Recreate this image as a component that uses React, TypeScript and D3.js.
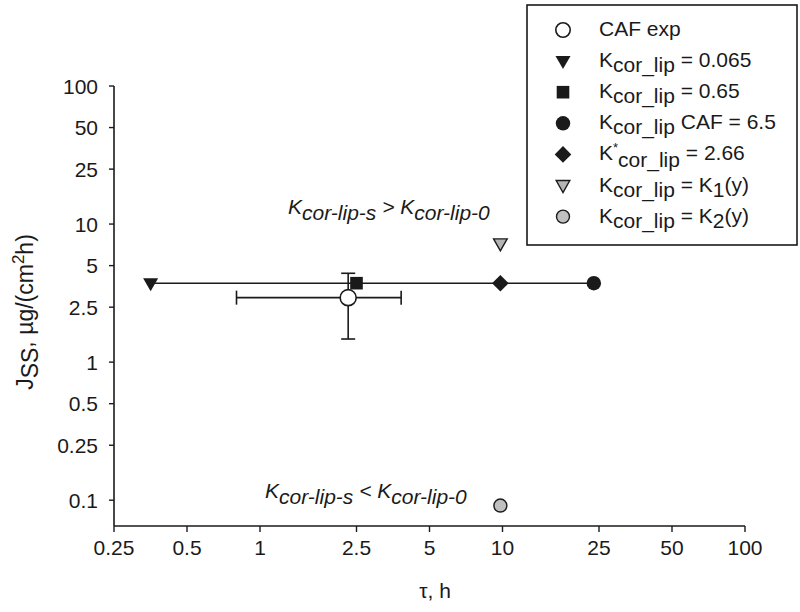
import React from "react";
import * as d3 from "d3";

const xTicks = [0.25, 0.5, 1, 2.5, 5, 10, 25, 50, 100];
const yTicks = [0.1, 0.25, 0.5, 1, 2.5, 5, 10, 25, 50, 100];

// series order: CAF exp, K=0.065, K=0.65, K CAF=6.5, K*=2.66, K1(y), K2(y)
const seriesKeys = ["exp", "k0065", "k065", "kcaf", "kstar", "k1", "k2"];
const seriesTau = [2.31, 0.354, 2.5, 23.8, 9.8, 9.8, 9.8];
const seriesJ = [2.93, 3.73, 3.73, 3.73, 3.73, 7.18, 0.0914];
const expTauRange = [0.8, 3.82];
const expJRange = [1.47, 4.4];
const lineKeys = ["k0065", "k065", "kstar", "kcaf"];

const FONT = "'Liberation Sans', Arial, sans-serif";
const INK = "#1a1a1a";

function marker(key: string, cx: number, cy: number, scale = 1) {
  const s = scale;
  switch (key) {
    case "exp":
      return <circle cx={cx} cy={cy} r={8 * s} fill="#fff" stroke={INK} strokeWidth={1.6} />;
    case "k0065":
      return (
        <path
          d={`M${cx - 7.5 * s},${cy - 5 * s}L${cx + 7.5 * s},${cy - 5 * s}L${cx},${cy + 8 * s}Z`}
          fill={INK}
        />
      );
    case "k065":
      return <rect x={cx - 6.3 * s} y={cy - 6.3 * s} width={12.6 * s} height={12.6 * s} fill={INK} />;
    case "kcaf":
      return <circle cx={cx} cy={cy} r={7.2 * s} fill={INK} />;
    case "kstar":
      return (
        <path
          d={`M${cx},${cy - 8.3 * s}L${cx + 8.3 * s},${cy}L${cx},${cy + 8.3 * s}L${cx - 8.3 * s},${cy}Z`}
          fill={INK}
        />
      );
    case "k1":
      return (
        <path
          d={`M${cx - 6.8 * s},${cy - 5 * s}L${cx + 6.8 * s},${cy - 5 * s}L${cx},${cy + 7 * s}Z`}
          fill="#b4b4b4"
          stroke={INK}
          strokeWidth={1.4}
        />
      );
    case "k2":
      return <circle cx={cx} cy={cy} r={6.5 * s} fill="#c0c0c0" stroke={INK} strokeWidth={1.4} />;
  }
  return null;
}

function legendLabel(key: string) {
  const d = 5;
  switch (key) {
    case "exp":
      return <tspan>CAF exp</tspan>;
    case "k0065":
      return (
        <>
          <tspan>K</tspan>
          <tspan dy={d}>cor_lip</tspan>
          <tspan dy={-d}> = 0.065</tspan>
        </>
      );
    case "k065":
      return (
        <>
          <tspan>K</tspan>
          <tspan dy={d}>cor_lip</tspan>
          <tspan dy={-d}> = 0.65</tspan>
        </>
      );
    case "kcaf":
      return (
        <>
          <tspan>K</tspan>
          <tspan dy={d}>cor_lip</tspan>
          <tspan dy={-d}> CAF = 6.5</tspan>
        </>
      );
    case "kstar":
      return (
        <>
          <tspan>K</tspan>
          <tspan dy={-8} fontSize={13}>*</tspan>
          <tspan dy={15}>cor_lip</tspan>
          <tspan dy={-7}>{"  = 2.66"}</tspan>
        </>
      );
    case "k1":
      return (
        <>
          <tspan>K</tspan>
          <tspan dy={d}>cor_lip</tspan>
          <tspan dy={-d}> = K</tspan>
          <tspan dy={d}>1</tspan>
          <tspan dy={-d}>(y)</tspan>
        </>
      );
    case "k2":
      return (
        <>
          <tspan>K</tspan>
          <tspan dy={d}>cor_lip</tspan>
          <tspan dy={-d}> = K</tspan>
          <tspan dy={d}>2</tspan>
          <tspan dy={-d}>(y)</tspan>
        </>
      );
  }
  return null;
}

export default function App() {
  const W = 800;
  const H = 612;
  const x = d3.scaleLog().domain([0.25, 100]).range([114, 745]);
  const y = d3.scaleLog().domain([0.065, 100]).range([526, 86]);
  const x0 = x.range()[0];
  const y0 = y.range()[0];

  const pts = seriesKeys.map((k, i) => ({ key: k, tau: seriesTau[i], j: seriesJ[i] }));
  const linePts = lineKeys
    .map((k) => pts.find((p) => p.key === k)!)
    .sort((a, b) => a.tau - b.tau);
  const line = d3
    .line<{ tau: number; j: number }>()
    .x((d) => x(d.tau))
    .y((d) => y(d.j));
  const exp = pts[0];
  const ex = x(exp.tau);
  const ey = y(exp.j);
  const cap = 7;

  const legendX = 527;
  const legendY = 5;
  const legendW = 270;
  const legendH = 240;

  return (
    <svg
      width={W}
      height={H}
      style={{ position: "absolute", left: 0, top: 0, background: "#fff" }}
      fontFamily={FONT}
    >
      <rect x={0} y={0} width={W} height={H} fill="#fff" />
      {/* axes */}
      <line x1={x0} x2={x0} y1={y(100)} y2={y0} stroke={INK} strokeWidth={1.6} />
      <line x1={x0} x2={x(100)} y1={y0} y2={y0} stroke={INK} strokeWidth={1.6} />
      {yTicks.map((t) => (
        <g key={"y" + t}>
          <line x1={x0 - 5} x2={x0} y1={y(t)} y2={y(t)} stroke={INK} strokeWidth={1.4} />
          <text x={x0 - 16} y={y(t)} dy="0.36em" textAnchor="end" fontSize={21} fill={INK}>
            {t}
          </text>
        </g>
      ))}
      {xTicks.map((t) => (
        <g key={"x" + t}>
          <line x1={x(t)} x2={x(t)} y1={y0} y2={y0 + 6} stroke={INK} strokeWidth={1.4} />
          <text x={x(t)} y={y0 + 29} textAnchor="middle" fontSize={21} fill={INK}>
            {t}
          </text>
        </g>
      ))}
      <text x={435} y={598} textAnchor="middle" fontSize={21} fill={INK}>
        τ, h
      </text>
      <text transform={`translate(33,312) rotate(-90)`} textAnchor="middle" fontSize={23} fill={INK}>
        <tspan>J</tspan>
        <tspan dy={5}>SS</tspan>
        <tspan dy={-5}>, µg/(cm</tspan>
        <tspan dy={-9} fontSize={17}>2</tspan>
        <tspan dy={9}>h)</tspan>
      </text>

      {/* model line */}
      <path d={line(linePts) || ""} fill="none" stroke={INK} strokeWidth={1.6} />

      {/* error bars */}
      <g stroke={INK} strokeWidth={1.6}>
        <line x1={x(expTauRange[0])} x2={x(expTauRange[1])} y1={ey} y2={ey} />
        <line x1={x(expTauRange[0])} x2={x(expTauRange[0])} y1={ey - cap} y2={ey + cap} />
        <line x1={x(expTauRange[1])} x2={x(expTauRange[1])} y1={ey - cap} y2={ey + cap} />
        <line x1={ex} x2={ex} y1={y(expJRange[0])} y2={y(expJRange[1])} />
        <line x1={ex - cap} x2={ex + cap} y1={y(expJRange[0])} y2={y(expJRange[0])} />
        <line x1={ex - cap} x2={ex + cap} y1={y(expJRange[1])} y2={y(expJRange[1])} />
      </g>

      {/* markers */}
      {pts
        .filter((p) => p.key !== "exp")
        .map((p) => (
          <g key={p.key}>{marker(p.key, x(p.tau), y(p.j))}</g>
        ))}
      {marker("exp", ex, ey)}

      {/* annotations */}
      <text x={288} y={214} fontSize={21} fontStyle="italic" fill={INK}>
        <tspan>K</tspan>
        <tspan dy={6}>cor-lip-s</tspan>
        <tspan dy={-6}> &gt; K</tspan>
        <tspan dy={6}>cor-lip-0</tspan>
      </text>
      <text x={265} y={498} fontSize={21} fontStyle="italic" fill={INK}>
        <tspan>K</tspan>
        <tspan dy={6}>cor-lip-s</tspan>
        <tspan dy={-6}> &lt; K</tspan>
        <tspan dy={6}>cor-lip-0</tspan>
      </text>

      {/* legend */}
      <rect
        x={legendX}
        y={legendY}
        width={legendW}
        height={legendH}
        fill="#fff"
        stroke={INK}
        strokeWidth={1.6}
      />
      {seriesKeys.map((k, i) => {
        const cy = 30 + i * 31.1;
        return (
          <g key={"lg" + k}>
            {marker(k, 563, cy, k === "exp" ? 0.9 : 1)}
            <text x={599} y={cy + 6} fontSize={21} fill={INK}>
              {legendLabel(k)}
            </text>
          </g>
        );
      })}
    </svg>
  );
}
